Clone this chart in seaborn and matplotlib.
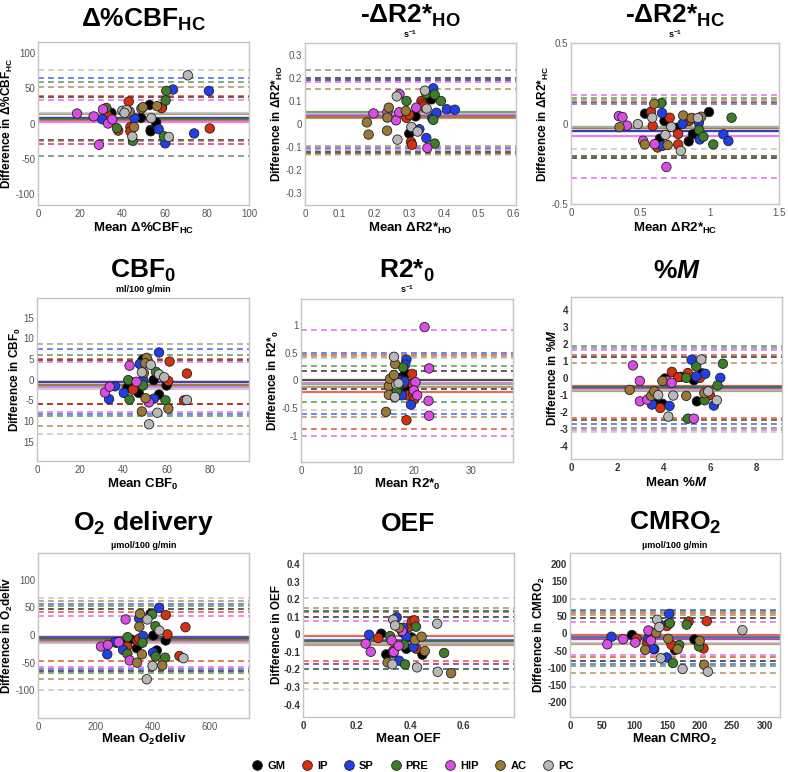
import numpy as np
import pandas as pd
import matplotlib
matplotlib.use("Agg")
import matplotlib.pyplot as plt
import seaborn as sns
from matplotlib.lines import Line2D

sns.set_theme(style="white")
plt.rcParams['font.family'] = ['Liberation Sans', 'DejaVu Sans']
plt.rcParams['mathtext.fontset'] = 'custom'
plt.rcParams['mathtext.rm'] = 'Liberation Sans:bold'
plt.rcParams['mathtext.it'] = 'Liberation Sans:bold:italic'
plt.rcParams['mathtext.bf'] = 'Liberation Sans:bold'
plt.rcParams['mathtext.default'] = 'rm'
plt.rcParams['text.color'] = 'black'
plt.rcParams['axes.labelcolor'] = 'black'

REGIONS = ["GM", "IP", "SP", "PRE", "HIP", "AC", "PC"]
COLORS = ["#000000", "#d6300c", "#1f3fe8", "#3d7d2a", "#d94ce6", "#9a7838", "#b8b8b8"]

# ---------------- Panel 1: delta %CBF_HC ----------------
DCBF_MEAN = {
    "GM": [34.8, 48.8, 52.8, 53.4, 53.4, 56, 58.8],
    "IP": [32.7, 38, 43, 43.8, 43.8, 58.6, 81.4],
    "SP": [30.5, 45.8, 57.2, 64, 60.3, 74, 81],
    "PRE": [32.4, 37.4, 45, 60.5, 60.8, 59.7],
    "HIP": [18.5, 26.4, 28.9, 30.8, 33.2, 35.2],
    "AC": [43.4, 45.5, 49, 49.7, 56.4],
    "PC": [40, 42, 44.7, 53.7, 62, 71, 41],
}
DCBF_DIFF = {
    "GM": [15, 8, 26, -9, -11, 1.4, 23],
    "IP": [12, -10, 31, -5, -11, 21.7, -7],
    "SP": [6, 7.5, -8, 48, -28, -14, 46],
    "PRE": [22, -6.6, -24.5, 32.5, 46, -18],
    "HIP": [14, 10, -30, 20, 0, 5.7],
    "AC": [17, -5, 21, 23, 24.5],
    "PC": [18, 19, -18.4, 7.5, -19, 68, 15],
}
DCBF_BIAS = [7.5, 5, 8, 6, 2, 13.5, 15]
DCBF_UPPER = [38, 39, 64, 59, 33.5, 51, 76]
DCBF_LOWER = [-23, -29, -46, -46, -29, -24, -46]

# ---------------- Panel 2: -delta R2*_HO ----------------
R2HO_MEAN = {
    "GM": [0.3, 0.309, 0.318, 0.342, 0.35, 0.364],
    "IP": [0.292, 0.3, 0.305, 0.308, 0.335, 0.339, 0.342],
    "SP": [0.329, 0.349, 0.366, 0.369, 0.378, 0.408, 0.431],
    "PRE": [0.292, 0.349, 0.373, 0.391, 0.369, 0.373],
    "HIP": [0.197, 0.237, 0.262, 0.271, 0.272, 0.32, 0.352],
    "AC": [0.178, 0.183, 0.236, 0.237, 0.241, 0.29],
    "PC": [0.264, 0.266, 0.306, 0.324, 0.345, 0.35],
}
R2HO_DIFF = {
    "GM": [-0.042, -0.02, 0.033, 0.077, 0.107, 0.107],
    "IP": [0.027, 0.04, -0.078, -0.09, 0.1, 0.087, 0.077],
    "SP": [-0.023, -0.061, 0.026, 0.155, 0.049, 0.064, 0.062],
    "PRE": [0.1, 0.132, 0.128, 0.1, 0.018, -0.085],
    "HIP": [0.046, 0.052, 0.016, 0.051, 0.13, 0.071, -0.104],
    "AC": [0.007, -0.046, -0.029, 0.028, 0.071, 0.057],
    "PC": [0.12, -0.068, -0.013, -0.033, 0.145, 0.067],
}
R2HO_BIAS = [0.04, 0.03, 0.04, 0.05, 0.04, 0.028, 0.045]
R2HO_UPPER = [0.2, 0.19, 0.19, 0.235, 0.183, 0.152, 0.235]
R2HO_LOWER = [-0.12, -0.13, -0.103, -0.126, -0.113, -0.094, -0.136]

# ---------------- Panel 3: -delta R2*_HC ----------------
R2HC_MEAN = {
    "GM": [0.534, 0.641, 0.674, 0.761, 0.849, 0.879, 0.995],
    "IP": [0.577, 0.589, 0.624, 0.712, 0.773, 0.773, 0.851],
    "SP": [0.657, 0.66, 0.804, 0.922, 0.929, 1.099, 1.135],
    "PRE": [0.65, 0.87, 0.924, 0.955, 1.026, 1.158],
    "HIP": [0.345, 0.371, 0.404, 0.52, 0.603, 0.688],
    "AC": [0.35, 0.532, 0.6, 0.697, 0.809, 0.87, 0.939],
    "PC": [0.482, 0.586, 0.681, 0.723, 0.792, 0.915],
}
R2HC_DIFF = {
    "GM": [0.061, -0.094, 0.015, -0.027, -0.111, -0.067, 0.071],
    "IP": [0.073, -0.015, -0.149, 0.036, -0.065, -0.13, 0.015],
    "SP": [0.065, -0.138, -0.002, 0.004, -0.099, -0.067, -0.109],
    "PRE": [0.126, 0.034, -0.04, -0.082, -0.13, 0.036],
    "HIP": [0.046, 0.04, -0.013, -0.107, -0.128, -0.27],
    "AC": [-0.023, -0.13, 0.122, -0.134, 0.05, 0.034, 0.042],
    "PC": [-0.004, 0.036, -0.071, -0.021, -0.17, 0.034],
}
R2HC_BIAS = [-0.045, -0.03, -0.046, -0.02, -0.075, -0.03, -0.02]
R2HC_UPPER = [0.122, 0.136, 0.13, 0.16, 0.176, 0.149, 0.122]
R2HC_LOWER = [-0.214, -0.2, -0.2, -0.2, -0.34, -0.2, -0.16]

# ---------------- Panel 4: CBF0 ----------------
CBF0_MEAN = {
    "GM": [41.8, 44.2, 47, 49, 53.9, 56.4, 59.9],
    "IP": [44.4, 48, 48.6, 60.7, 61.3, 69.3, 68],
    "SP": [33.3, 36.1, 40.1, 47.5, 49, 54, 56.4],
    "PRE": [42.2, 42.8, 55, 59.4, 49],
    "HIP": [31.4, 33.6, 42.8, 51.7, 46],
    "AC": [48.5, 49.4, 50.2, 50.7, 50, 60.7],
    "PC": [48.5, 51.8, 52.6, 55.6, 56.4, 58.8, 69.3],
}
CBF0_DIFF = {
    "GM": [-1.9, -0.7, -3.2, 4.9, -0.1, -3.6, -1.4],
    "IP": [-2.4, -0.6, -1.4, -0.3, 4.4, 1.5, -5],
    "SP": [-4.7, -1.6, -3.2, 3.8, 0, -4.6, 6.6],
    "PRE": [-0.1, -4.8, 1.9, -5, -1.4],
    "HIP": [-3.1, -1.7, 3.4, -5.5, -0.5],
    "AC": [-7.7, 1.6, -4.5, 5.3, 4, -7],
    "PC": [1.8, -10.8, 3.6, -8, 1.3, 0.6, -4.9],
}
CBF0_BIAS = [-0.6, -0.5, -0.6, -1.3, -1.7, -1.3, -2.2]
CBF0_UPPER = [4.7, 5.1, 7.5, 6.0, 4.4, 8.7, 8.7]
CBF0_LOWER = [-6.0, -6.0, -8.4, -8.7, -7.8, -11.3, -13.1]

# ---------------- Panel 5: R2*0 ----------------
R20_MEAN = {
    "GM": [17.6, 18.3, 18.5, 18.4, 18.0, 18.6],
    "IP": [18.6, 18.8, 19.6, 19.7, 19.8, 20.0, 18.2],
    "SP": [17.4, 17.8, 18.6, 18.4, 19.4, 18.2],
    "PRE": [16.4, 16.7, 17.1, 18.0, 16.9],
    "HIP": [21.8, 22.6, 20.2, 19.9, 20.5, 22.5, 22.6],
    "AC": [15, 15.5, 15.7, 15.5, 16.4, 16.6],
    "PC": [16.4, 16.6, 16.8, 17.2],
}
R20_DIFF = {
    "GM": [0.05, 0.09, -0.12, 0.13, 0.0, -0.15],
    "IP": [-0.72, -0.27, 0.12, -0.06, -0.25, -0.34, -0.05],
    "SP": [0, -0.27, 0.38, 0.29, -0.44, -0.02],
    "PRE": [-0.29, -0.16, -0.12, 0.24, -0.2],
    "HIP": [0.97, 0.22, -0.03, -0.18, -0.27, -0.37, -0.64],
    "AC": [-0.57, -0.1, 0.03, -0.26, 0.1, 0.3],
    "PC": [0.43, -0.3, -0.07, -0.05],
}
R20_BIAS = [0.01, -0.21, -0.06, -0.06, -0.04, -0.12, -0.07]
R20_UPPER = [0.18, 0.46, 0.5, 0.27, 0.91, 0.43, 0.4]
R20_LOWER = [-0.16, -0.88, -0.61, -0.39, -1.0, -0.67, -0.53]

# ---------------- Panel 6: %M ----------------
PM_MEAN = {
    "GM": [3.62, 3.95, 4.05, 4.74, 5.3, 5.43, 5.66],
    "IP": [3.85, 4.35, 4.63, 5.04, 5.56, 5.99],
    "SP": [3.49, 4.25, 5.2, 5.4, 5.79, 6.16, 6.44],
    "PRE": [4.97, 5.04, 5.4, 5.76, 6.32, 6.55],
    "HIP": [2.67, 2.97, 2.97, 3.29, 4.15, 4.34, 5.3],
    "AC": [2.53, 3.46, 3.59, 3.94, 4.97, 5.75],
    "PC": [3.76, 4.2, 4.41, 5.62, 5.92, 6.29],
}
PM_DIFF = {
    "GM": [-1.3, -1.53, -0.04, 0.06, -0.14, -1.38, 0.26],
    "IP": [-1.77, 0.35, 0.04, 0.28, 0, -1.02],
    "SP": [-1.57, -1.65, 1.06, 0.08, 0.24, -1.63, 0],
    "PRE": [0, -2.4, 0.67, -1.32, -0.45, 0.83],
    "HIP": [0.73, -0.18, -1.38, -1.28, -0.18, -0.29, -2.4],
    "AC": [-0.71, -1.06, -0.79, -0.18, -1.06, -0.9],
    "PC": [-1.02, -2.28, -1.04, 1.08, -0.8, -1.32],
}
PM_BIAS = [-0.6, -0.5, -0.52, -0.55, -0.68, -0.77, -0.7]
PM_UPPER = [1.24, 1.36, 1.73, 1.85, 1.65, 0.9, 1.73]
PM_LOWER = [-2.5, -2.34, -2.7, -2.95, -3.05, -2.5, -3.16]

# ---------------- Panel 7: O2 delivery ----------------
O2D_MEAN = {
    "GM": [274, 305, 324, 345, 393, 403, 415, 446],
    "IP": [311, 347, 353, 446, 452, 494, 515],
    "SP": [242, 269, 297, 353, 367, 402, 423],
    "PRE": [313, 312, 365, 410, 411, 444, 399],
    "HIP": [220, 244, 282, 306, 320],
    "AC": [356, 354, 363, 346, 434],
    "PC": [382, 400, 380, 424, 508],
}
O2D_DIFF = {
    "GM": [-14, -16, -8, -24, 38, -1, -28, -10],
    "IP": [-21, -10, -7, 36, 1, -38, 14],
    "SP": [-35, -13, -27, 30, -2, -32, 49],
    "PRE": [-4, -34, -14, 16, -39, -41, 37],
    "HIP": [-21, -18, -13, 28, -46],
    "AC": [38, 15, -35, -50, -55],
    "PC": [28, -56, -80, 8, -42],
}
O2D_BIAS = [-8, -3, -4, -9, -12, -9, -15]
O2D_UPPER = [47, 42, 56, 51.5, 34.5, 62, 66]
O2D_LOWER = [-65, -47, -62, -69, -57.6, -80, -100]

# ---------------- Panel 8: OEF ----------------
OEF_MEAN = {
    "GM": [0.292, 0.311, 0.366, 0.372, 0.386, 0.405, 0.446],
    "IP": [0.281, 0.337, 0.396, 0.407, 0.416, 0.423],
    "SP": [0.247, 0.337, 0.35, 0.359, 0.375, 0.386, 0.413],
    "PRE": [0.325, 0.377, 0.381, 0.422, 0.527],
    "HIP": [0.234, 0.253, 0.331, 0.339, 0.357, 0.37],
    "AC": [0.316, 0.359, 0.418, 0.443, 0.455, 0.553],
    "PC": [0.337, 0.344, 0.334, 0.426, 0.501, 0.503],
}
OEF_DIFF = {
    "GM": [0.004, -0.114, 0.036, 0.011, -0.082, -0.017, -0.116],
    "IP": [-0.021, -0.093, 0.042, 0.078, 0.08, -0.082],
    "SP": [-0.002, -0.108, 0.097, -0.15, 0.038, -0.013, -0.072],
    "PRE": [-0.01, -0.059, -0.171, 0.044, -0.106],
    "HIP": [-0.053, -0.099, -0.034, -0.1, -0.065, 0.019],
    "AC": [-0.16, 0.038, -0.032, -0.013, -0.095, -0.221],
    "PC": [0.084, 0.051, -0.171, -0.188, 0.061, -0.213],
}
OEF_BIAS = [-0.035, -0.01, -0.03, -0.035, -0.05, -0.063, -0.05]
OEF_UPPER = [0.099, 0.13, 0.133, 0.133, 0.074, 0.152, 0.21]
OEF_LOWER = [-0.171, -0.15, -0.196, -0.196, -0.171, -0.278, -0.31]

# ---------------- Panel 9: CMRO2 ----------------
CMRO2_MEAN = {
    "GM": [95.6, 125, 130, 151.6, 161, 162, 192],
    "IP": [102.8, 119, 149.5, 156.6, 183, 206, 211],
    "SP": [64, 121, 128.5, 139, 149, 153],
    "PRE": [122.6, 154, 158.8, 168.5, 180, 199],
    "HIP": [57.6, 82, 100.7, 121, 125],
    "AC": [116, 133, 151.6, 166, 200, 207],
    "PC": [134.6, 137.7, 140, 173.7, 212.7, 266],
}
CMRO2_DIFF = {
    "GM": [-5, 0, -46, 27, -39, -48, -18],
    "IP": [-15.5, -26, 21, -33, 34, -44, 35],
    "SP": [-10, -15, -45, 24, -70, 56],
    "PRE": [6, 29, -86, -34, 25, -38],
    "HIP": [-32, -17, -27, 8, -21],
    "AC": [-48, 1, -16, -46, -22, -91],
    "PC": [39, 18, -72, -103, -111, 9],
}
CMRO2_BIAS = [-18, -5, -11, -15, -16, -30, -27]
CMRO2_UPPER = [44, 60, 67, 63, 32, 54, 100]
CMRO2_LOWER = [-81, -69, -90, -95, -64, -115, -155]

# ---------------- Figure layout ----------------
W, H = 788, 772
fig = plt.figure(figsize=(W / 100, H / 100), dpi=100)

def frac(l, t, r, b):
    return [l / W, 1 - b / H, (r - l) / W, (b - t) / H]

panels = [
    dict(mean=DCBF_MEAN, diff=DCBF_DIFF, bias=DCBF_BIAS, up=DCBF_UPPER, lo=DCBF_LOWER,
         box=(38, 42, 249, 205), xlim=(0, 100), ylim=(-115, 115),
         xt=[0, 20, 40, 60, 80, 100], yt=[-100, -50, 0, 50, 100], ytl=None,
         title=r"Δ%CBF$_{HC}$", ty=20, sub=None, sy=None,
         ylab=r"Difference in Δ%CBF$_{HC}$", xlab=r"Mean Δ%CBF$_{HC}$", xly=228, boldtick=False),
    dict(mean=R2HO_MEAN, diff=R2HO_DIFF, bias=R2HO_BIAS, up=R2HO_UPPER, lo=R2HO_LOWER,
         box=(305, 43, 516, 205), xlim=(0, 0.607), ylim=(-0.352, 0.352),
         xt=[0, 0.1, 0.2, 0.3, 0.4, 0.5, 0.6], yt=[-0.3, -0.2, -0.1, 0, 0.1, 0.2, 0.3], ytl=None,
         title=r"-ΔR2*$_{HO}$", ty=16, sub=r"s$^{-1}$", sy=34,
         ylab=r"Difference in ΔR2*$_{HO}$", xlab=r"Mean ΔR2*$_{HO}$", xly=228, boldtick=False),
    dict(mean=R2HC_MEAN, diff=R2HC_DIFF, bias=R2HC_BIAS, up=R2HC_UPPER, lo=R2HC_LOWER,
         box=(571, 43, 779, 204), xlim=(0, 1.5), ylim=(-0.5, 0.5),
         xt=[0, 0.5, 1, 1.5], yt=[-0.5, 0, 0.5], ytl=None,
         title=r"-ΔR2*$_{HC}$", ty=16, sub=r"s$^{-1}$", sy=34,
         ylab=r"Difference in ΔR2*$_{HC}$", xlab=r"Mean ΔR2*$_{HC}$", xly=228, boldtick=False),
    dict(mean=CBF0_MEAN, diff=CBF0_DIFF, bias=CBF0_BIAS, up=CBF0_UPPER, lo=CBF0_LOWER,
         box=(37, 298, 249, 461), xlim=(0, 98), ylim=(-19.7, 19.8),
         xt=[0, 20, 40, 60, 80], yt=[-15, -10, -5, 0, 5, 10, 15],
         ytl=["15", "10", "-5", "0", "5", "10", "15"],
         title=r"CBF$_0$", ty=271, sub="ml/100 g/min", sy=289,
         ylab=r"Difference in CBF$_0$", xlab=r"Mean CBF$_0$", xly=484, boldtick=False),
    dict(mean=R20_MEAN, diff=R20_DIFF, bias=R20_BIAS, up=R20_UPPER, lo=R20_LOWER,
         box=(301, 299, 513, 462), xlim=(0, 37.4), ylim=(-1.48, 1.48),
         xt=[0, 10, 20, 30], yt=[-1, -0.5, 0, 0.5, 1], ytl=None,
         title=r"R2*$_0$", ty=271, sub=r"s$^{-1}$", sy=289,
         ylab=r"Difference in R2*$_0$", xlab=r"Mean R2*$_0$", xly=484, boldtick=False),
    dict(mean=PM_MEAN, diff=PM_DIFF, bias=PM_BIAS, up=PM_UPPER, lo=PM_LOWER,
         box=(571, 297, 782, 459), xlim=(0, 9.1), ylim=(-4.77, 4.75),
         xt=[0, 2, 4, 6, 8], yt=[-4, -3, -2, -1, 0, 1, 2, 3, 4], ytl=None,
         title=r"%$\mathit{M}$", ty=271, sub=None, sy=None,
         ylab=r"Difference in %$\mathit{M}$", xlab=r"Mean %$\mathit{M}$", xly=483, boldtick=True),
    dict(mean=O2D_MEAN, diff=O2D_DIFF, bias=O2D_BIAS, up=O2D_UPPER, lo=O2D_LOWER,
         box=(38, 553, 249, 718), xlim=(0, 737), ylim=(-150, 148),
         xt=[0, 200, 400, 600], yt=[-100, -50, 0, 50, 100], ytl=None,
         title=r"O$_2$ delivery", ty=523, sub="µmol/100 g/min", sy=545,
         ylab=r"Difference in O$_2$deliv", xlab=r"Mean O$_2$deliv", xly=739, boldtick=False),
    dict(mean=OEF_MEAN, diff=OEF_DIFF, bias=OEF_BIAS, up=OEF_UPPER, lo=OEF_LOWER,
         box=(303, 553, 514, 717), xlim=(0, 0.788), ylim=(-0.471, 0.464),
         xt=[0, 0.2, 0.4, 0.6], yt=[-0.4, -0.3, -0.2, -0.1, 0, 0.1, 0.2, 0.3, 0.4], ytl=None,
         title="OEF", ty=524, sub=None, sy=None,
         ylab="Difference in OEF", xlab="Mean OEF", xly=739, boldtick=True),
    dict(mean=CMRO2_MEAN, diff=CMRO2_DIFF, bias=CMRO2_BIAS, up=CMRO2_UPPER, lo=CMRO2_LOWER,
         box=(570, 553, 780, 717), xlim=(0, 324), ylim=(-242, 232),
         xt=[0, 50, 100, 150, 200, 250, 300], yt=[-200, -150, -100, -50, 0, 50, 100, 150, 200], ytl=None,
         title=r"CMRO$_2$", ty=523, sub="µmol/100 g/min", sy=545,
         ylab=r"Difference in CMRO$_2$", xlab=r"Mean CMRO$_2$", xly=739, boldtick=True),
]

palette = dict(zip(REGIONS, COLORS))

def fmt(v):
    return "%g" % v

for p in panels:
    ax = fig.add_axes(frac(*p["box"]))
    for i, reg in enumerate(REGIONS):
        c = COLORS[i]
        ax.axhline(p["up"][i], color=c, lw=1.2, ls=(0, (3.5, 2.5)), alpha=0.75, zorder=1)
        ax.axhline(p["lo"][i], color=c, lw=1.2, ls=(0, (3.5, 2.5)), alpha=0.75, zorder=1)
    for i, reg in enumerate(REGIONS):
        ax.axhline(p["bias"][i], color=COLORS[i], lw=1.6, alpha=0.7, zorder=1)
    rows = []
    for reg in REGIONS:
        for xv, yv in zip(p["mean"][reg], p["diff"][reg]):
            rows.append((reg, xv, yv))
    df = pd.DataFrame(rows, columns=["region", "mean", "diff"])
    sns.scatterplot(data=df, x="mean", y="diff", hue="region", palette=palette,
                    hue_order=REGIONS, s=46, edgecolor="#222222", linewidth=0.6,
                    legend=False, ax=ax, zorder=3)
    ax.set_xlim(*p["xlim"])
    ax.set_ylim(*p["ylim"])
    ax.set_xticks(p["xt"])
    ax.set_yticks(p["yt"])
    ax.set_xticklabels([fmt(v) for v in p["xt"]])
    ax.set_yticklabels(p["ytl"] if p["ytl"] else [fmt(v) for v in p["yt"]])
    tw = "bold" if p["boldtick"] else "normal"
    tc = "#333333" if p["boldtick"] else "#555555"
    for lab in ax.get_xticklabels() + ax.get_yticklabels():
        lab.set_fontsize(7)
        lab.set_fontweight(tw)
        lab.set_color(tc)
    ax.tick_params(direction="in", length=2.5, width=0.6, color="#bbbbbb")
    ax.tick_params(axis="y", pad=2)
    ax.tick_params(axis="x", pad=3)
    for sp in ax.spines.values():
        sp.set_color("#c4c4c4")
        sp.set_linewidth(1.0)
    ax.set_xlabel("")
    ax.set_ylabel(p["ylab"], fontsize=8.5, fontweight="bold", color="black", labelpad=0.5)
    l, t, r, b = p["box"]
    cx = (l + r) / 2 / W
    fig.text(cx, 1 - p["ty"] / H, p["title"], ha="center", va="center",
             fontsize=19, fontweight="bold", color="black")
    if p["sub"]:
        fig.text(cx, 1 - p["sy"] / H, p["sub"], ha="center", va="center",
                 fontsize=6.5, fontweight="bold", color="black")
    fig.text(cx, 1 - p["xly"] / H, p["xlab"], ha="center", va="center",
             fontsize=9.5, fontweight="bold", color="black")

handles = [Line2D([0], [0], marker="o", ls="", markerfacecolor=c, markeredgecolor="#222222",
                  markeredgewidth=0.6, markersize=7) for c in COLORS]
leg = fig.legend(handles, REGIONS, loc="center", bbox_to_anchor=(412 / W, 1 - 766 / H), ncol=7,
                 frameon=False, handletextpad=0.3, columnspacing=1.35, handlelength=1.2,
                 prop={"family": "Liberation Sans", "weight": "bold", "size": 8})
for t in leg.get_texts():
    t.set_color("black")

fig.savefig("out.png", dpi=100)
